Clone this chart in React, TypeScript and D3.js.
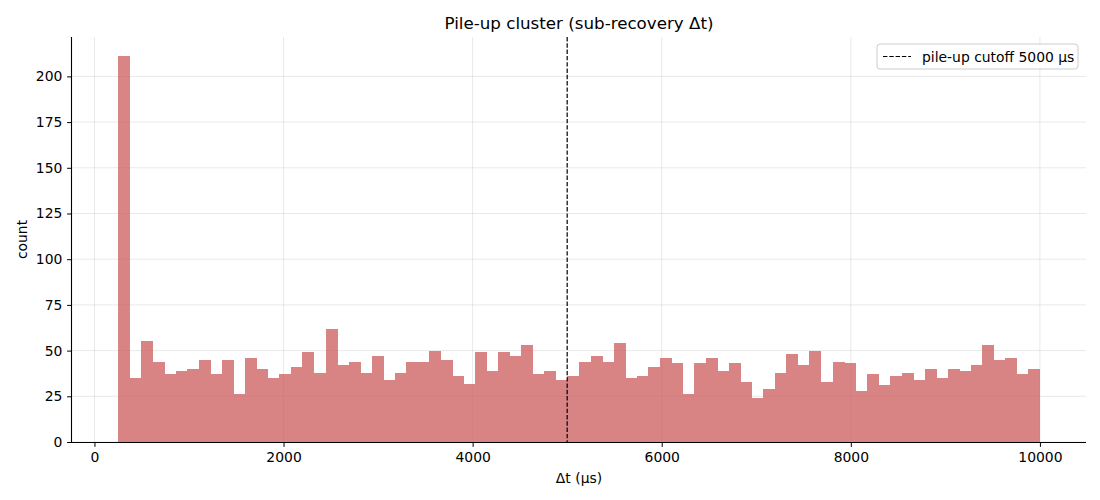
import { useEffect, useRef } from 'react';
import * as d3 from 'd3';

// histogram counts, 80 bins of equal width between BIN_START and BIN_END (µs)
const BIN_START = 250;
const BIN_END = 10000;
const COUNTS = [
    211, 35, 55, 44, 37, 39, 40, 45, 37, 45, 26, 46, 40, 35, 37, 41, 49, 38, 62, 42,
    44, 38, 47, 34, 38, 44, 44, 50, 45, 36, 32, 49, 39, 49, 47, 53, 37, 39, 34, 36,
    44, 47, 44, 54, 35, 36, 41, 46, 43, 26, 43, 46, 39, 43, 33, 24, 29, 38, 48, 42,
    50, 33, 44, 43, 28, 37, 31, 36, 38, 34, 40, 35, 40, 39, 42, 53, 45, 46, 37, 40,
];
const CUTOFF = 5000;
const X_TICKS = [0, 2000, 4000, 6000, 8000, 10000];
const Y_TICKS = [0, 25, 50, 75, 100, 125, 150, 175, 200];

const WIDTH = 1100;
const HEIGHT = 500;
const MARGIN = { top: 37, right: 14, bottom: 58, left: 72 };
const FONT = 'DejaVu Sans, sans-serif';

export default function App() {
    const ref = useRef<SVGSVGElement>(null);

    useEffect(() => {
        const svg = d3.select(ref.current);
        svg.selectAll('*').remove();

        const boundsWidth = WIDTH - MARGIN.left - MARGIN.right;
        const boundsHeight = HEIGHT - MARGIN.top - MARGIN.bottom;
        const binWidth = (BIN_END - BIN_START) / COUNTS.length;
        const bins = COUNTS.map((c, i) => ({ x0: BIN_START + i * binWidth, x1: BIN_START + (i + 1) * binWidth, c }));

        const pad = (BIN_END - BIN_START) * 0.05;
        const xScale = d3.scaleLinear().domain([BIN_START - pad, BIN_END + pad]).range([0, boundsWidth]);
        const yMax = (d3.max(COUNTS) ?? 0) * 1.05;
        const yScale = d3.scaleLinear().domain([0, yMax]).range([boundsHeight, 0]);

        const g = svg.append('g').attr('transform', `translate(${MARGIN.left},${MARGIN.top})`);

        // grid
        g.append('g')
            .selectAll('line')
            .data(X_TICKS)
            .join('line')
            .attr('x1', (d) => xScale(d))
            .attr('x2', (d) => xScale(d))
            .attr('y1', 0)
            .attr('y2', boundsHeight)
            .attr('stroke', '#b0b0b0')
            .attr('stroke-opacity', 0.35)
            .attr('stroke-width', 0.8);
        g.append('g')
            .selectAll('line')
            .data(Y_TICKS)
            .join('line')
            .attr('x1', 0)
            .attr('x2', boundsWidth)
            .attr('y1', (d) => yScale(d))
            .attr('y2', (d) => yScale(d))
            .attr('stroke', '#b0b0b0')
            .attr('stroke-opacity', 0.35)
            .attr('stroke-width', 0.8);

        // bars: opacity on the group so adjacent bars don't show seams
        g.append('g')
            .attr('opacity', 0.75)
            .attr('shape-rendering', 'crispEdges')
            .selectAll('rect')
            .data(bins)
            .join('rect')
            .attr('x', (d) => xScale(d.x0))
            .attr('width', (d) => xScale(d.x1) - xScale(d.x0) + 0.5)
            .attr('y', (d) => yScale(d.c))
            .attr('height', (d) => boundsHeight - yScale(d.c))
            .attr('fill', 'indianred');

        // cutoff line
        g.append('line')
            .attr('x1', xScale(CUTOFF))
            .attr('x2', xScale(CUTOFF))
            .attr('y1', 0)
            .attr('y2', boundsHeight)
            .attr('stroke', 'black')
            .attr('stroke-width', 1.2)
            .attr('stroke-dasharray', '4.4,1.9');

        // axes
        const xAxis = g
            .append('g')
            .attr('transform', `translate(0,${boundsHeight})`)
            .call(d3.axisBottom(xScale).tickValues(X_TICKS).tickFormat(d3.format('d')).tickSize(4.9).tickPadding(4.8));
        const yAxis = g.append('g').call(d3.axisLeft(yScale).tickValues(Y_TICKS).tickFormat(d3.format('d')).tickSize(4.9).tickPadding(4.8));
        [xAxis, yAxis].forEach((a) => {
            a.selectAll('text').attr('font-family', FONT).attr('font-size', 13.9).attr('fill', 'black');
            a.selectAll('line').attr('stroke', 'black').attr('stroke-width', 1);
            a.select('.domain').attr('stroke', 'black').attr('stroke-width', 1.1);
        });
        xAxis.select('.domain').attr('d', `M0,0.5H${boundsWidth}`);
        yAxis.select('.domain').attr('d', `M-0.5,0V${boundsHeight}`);

        // labels
        svg.append('text')
            .attr('x', MARGIN.left + boundsWidth / 2)
            .attr('y', 29)
            .attr('text-anchor', 'middle')
            .attr('font-family', FONT)
            .attr('font-size', 16.7)
            .text('Pile-up cluster (sub-recovery Δt)');
        svg.append('text')
            .attr('x', MARGIN.left + boundsWidth / 2)
            .attr('y', 483)
            .attr('text-anchor', 'middle')
            .attr('font-family', FONT)
            .attr('font-size', 13.9)
            .text('Δt (µs)');
        svg.append('text')
            .attr('transform', `translate(27,${MARGIN.top + boundsHeight / 2}) rotate(-90)`)
            .attr('text-anchor', 'middle')
            .attr('font-family', FONT)
            .attr('font-size', 13.9)
            .text('count');

        // legend
        const leg = svg.append('g').attr('transform', 'translate(877,44)');
        leg.append('rect')
            .attr('width', 201)
            .attr('height', 25)
            .attr('rx', 3)
            .attr('fill', 'white')
            .attr('fill-opacity', 0.8)
            .attr('stroke', '#cccccc');
        leg.append('line')
            .attr('x1', 6)
            .attr('x2', 34)
            .attr('y1', 12.5)
            .attr('y2', 12.5)
            .attr('stroke', 'black')
            .attr('stroke-width', 1.2)
            .attr('stroke-dasharray', '4.4,1.9');
        leg.append('text')
            .attr('x', 45)
            .attr('y', 17.5)
            .attr('font-family', FONT)
            .attr('font-size', 13.9)
            .text(`pile-up cutoff ${CUTOFF} µs`);
    }, []);

    return <svg ref={ref} width={WIDTH} height={HEIGHT} style={{ position: 'absolute', left: 0, top: 0 }} />;
}
